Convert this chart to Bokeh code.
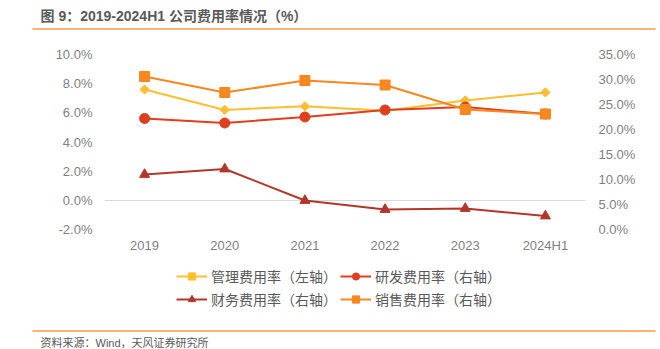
import math
from bokeh.plotting import figure
from bokeh.models import (Range1d, LinearAxis, FixedTicker, PrintfTickFormatter,
                          Legend, LegendItem, FactorRange, ColumnDataSource)
from bokeh.layouts import column
from bokeh.embed import file_html
from bokeh.resources import INLINE
from bokeh.core.properties import value

categories = ["2019", "2020", "2021", "2022", "2023", "2024H1"]
mgmt_rate = [7.6, 6.2, 6.45, 6.15, 6.85, 7.4]        # left axis
rd_rate = [22.2, 21.3, 22.5, 23.9, 24.5, 23.1]        # right axis
fin_rate = [11.0, 12.1, 5.8, 4.0, 4.2, 2.7]           # right axis
sales_rate = [30.6, 27.4, 29.8, 28.9, 24.0, 23.1]     # right axis

left_ticks = [-2, 0, 2, 4, 6, 8, 10]
right_ticks = [0, 5, 10, 15, 20, 25, 30, 35]

title_text = "图 9：2019-2024H1 公司费用率情况（%）"
source_text = "资料来源：Wind，天风证券研究所"
legend_labels = ["管理费用率（左轴）", "研发费用率（右轴）", "财务费用率（右轴）", "销售费用率（右轴）"]

FONT = "Liberation Sans, Noto Sans CJK SC"
C_Y = "#FDBE2F"
C_R = "#E03E1D"
C_D = "#B2372A"
C_O = "#F7871F"
ACCENT = "#F39A4C"

W = 660

SERIES_STYLE = [
    dict(color=C_Y, marker="square", angle=math.pi / 4, size=6.5),
    dict(color=C_R, marker="circle", angle=0.0, size=10),
    dict(color=C_D, marker="triangle", angle=0.0, size=10),
    dict(color=C_O, marker="square", angle=0.0, size=10),
]


def strip(height):
    f = figure(width=W, height=height, x_range=Range1d(0, W), y_range=Range1d(height, 0),
               toolbar_location=None, output_backend="svg", min_border=0,
               x_axis_location=None, y_axis_location=None, frame_align=False)
    f.grid.visible = False
    f.outline_line_color = None
    return f


# ---- title strip (page y 0..30) ----
pt = strip(30)
pt.text(x=[40], y=[15], text=[title_text], text_font=value(FONT), text_font_size="14px",
        text_font_style="bold", text_color="#595959", text_baseline="middle", text_align="left")
pt.segment(x0=[32], y0=[28.5], x1=[655], y1=[28.5], line_color=ACCENT, line_width=1.5)

# ---- main chart (page y 30..260) ----
p = figure(width=W, height=230, x_range=FactorRange(*categories, range_padding=0),
           y_range=Range1d(-2, 10), toolbar_location=None, output_backend="svg",
           min_border_left=104, min_border_right=75, min_border_top=24, min_border_bottom=31,
           frame_align=False)
p.outline_line_color = None
p.extra_y_ranges = {"right": Range1d(0, 35)}

p.xgrid.visible = False
p.ygrid.ticker = FixedTicker(ticks=[0])
p.ygrid.grid_line_color = "#d9d9d9"
p.ygrid.grid_line_width = 1


def style_axis(ax):
    ax.axis_line_color = None
    ax.major_tick_line_color = None
    ax.minor_tick_line_color = None
    ax.major_tick_out = 0
    ax.major_tick_in = 0
    ax.minor_tick_out = 0
    ax.major_label_text_font = FONT
    ax.major_label_text_font_size = "13px"
    ax.major_label_text_color = "#7f7f7f"


style_axis(p.xaxis[0])
style_axis(p.yaxis[0])
p.yaxis[0].ticker = FixedTicker(ticks=left_ticks)
p.yaxis[0].formatter = PrintfTickFormatter(format="%.1f%%")
p.yaxis[0].major_label_standoff = 12
p.xaxis[0].major_label_standoff = 8

rax = LinearAxis(y_range_name="right", ticker=FixedTicker(ticks=right_ticks),
                 formatter=PrintfTickFormatter(format="%.1f%%"))
style_axis(rax)
rax.major_label_standoff = 13
p.add_layout(rax, "right")

src = ColumnDataSource(dict(x=categories, m=mgmt_rate, r=rd_rate, f=fin_rate, s=sales_rate))
cols = ["m", "r", "f", "s"]
ranges = ["default", "right", "right", "right"]
for col, rng, st in zip(cols, ranges, SERIES_STYLE):
    p.line("x", col, source=src, line_color=st["color"], line_width=2, y_range_name=rng)
    p.scatter("x", col, source=src, marker=st["marker"], angle=st["angle"], size=st["size"],
              fill_color=st["color"], line_color=st["color"], y_range_name=rng)

# ---- legend strip (page y 260..320) ----
pl = strip(60)
items = []
for lab, st in zip(legend_labels, SERIES_STYLE):
    # proxy glyphs placed outside the visible range, only used for the legend icons
    lr = pl.line(x=[-100, -90], y=[-100, -100], line_color=st["color"], line_width=2)
    sr = pl.scatter(x=[-100], y=[-100], marker=st["marker"], angle=st["angle"],
                    size=st["size"], fill_color=st["color"], line_color=st["color"])
    items.append(LegendItem(label=lab, renderers=[lr, sr]))
# legend fills column by column: order so rows read (管理, 研发), (财务, 销售)
legend = Legend(items=[items[0], items[2], items[1], items[3]], ncols=2, location=(176, 11))
legend.border_line_color = None
legend.background_fill_alpha = 0
legend.label_text_font = FONT
legend.label_text_font_size = "14px"
legend.label_text_color = "#595959"
legend.glyph_width = 31
legend.glyph_height = 18
legend.label_height = 18
legend.label_standoff = 4
legend.spacing = 3
legend.padding = 0
legend.margin = 0
pl.add_layout(legend)

# ---- source strip (page y 320..349) ----
ps = strip(29)
ps.segment(x0=[32], y0=[10.5], x1=[655], y1=[10.5], line_color=ACCENT, line_width=1.5)
ps.text(x=[40], y=[22], text=[source_text], text_font=value(FONT), text_font_size="11px",
        text_color="#595959", text_baseline="middle", text_align="left")

layout = column(pt, p, pl, ps, spacing=0)
open("out.html", "w").write(file_html(layout, INLINE))
